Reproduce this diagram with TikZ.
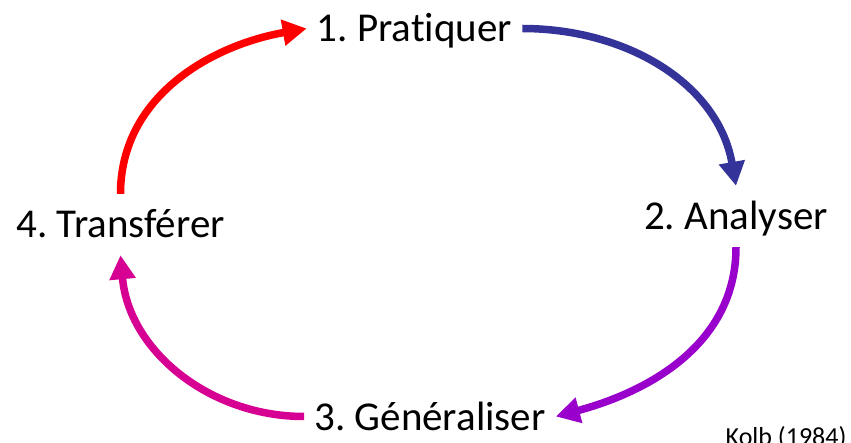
\documentclass[tikz,border=0pt]{standalone}
\usepackage{fontspec}
\setmainfont{Carlito}[Ligatures=NoCommon]
\usepackage{tikz}
\usetikzlibrary{arrows.meta}
\definecolor{kolbred}{RGB}{255,0,0}
\definecolor{kolbblue}{RGB}{51,51,153}
\definecolor{kolbpurple}{RGB}{153,0,204}
\definecolor{kolbmagenta}{RGB}{214,0,147}
\frenchspacing
\tikzset{
  stage/.style={anchor=base, font=\fontsize{41}{49}\selectfont,
    text height=36pt, text depth=9pt, inner xsep=10pt, inner ysep=8pt},
  cycle/.style={line width=7.5pt, -{Triangle[length=24pt,width=25pt]}}
}

\begin{document}
\begin{tikzpicture}[x=1pt,y=1pt]
\useasboundingbox (0,0) rectangle (851,442);
\node[stage] (prat)  at (414.5,400) {1. Pratiquer};
\node[stage] (anal)  at (736,212)   {2. Analyser};
\node[stage] (gen)   at (430,12)    {3. Généraliser};
\node[stage] (trans) at (120.5,204) {4. Transférer};
\node[anchor=base east, font=\fontsize{26}{30}\selectfont] (kolb) at (850,-3) {Kolb (1984)};
% cycle
\draw[cycle, kolbblue]    (prat.east)  to[out=0,in=100]   (anal.north);
\draw[cycle, kolbpurple]  (anal.south) to[out=-90,in=15]  (gen.east);
\draw[cycle, kolbmagenta] (gen.west)   to[out=180,in=-85] (trans.south);
\draw[cycle, kolbred]     (trans.north) to[out=90,in=190] (prat.west);
\end{tikzpicture}
\end{document}
